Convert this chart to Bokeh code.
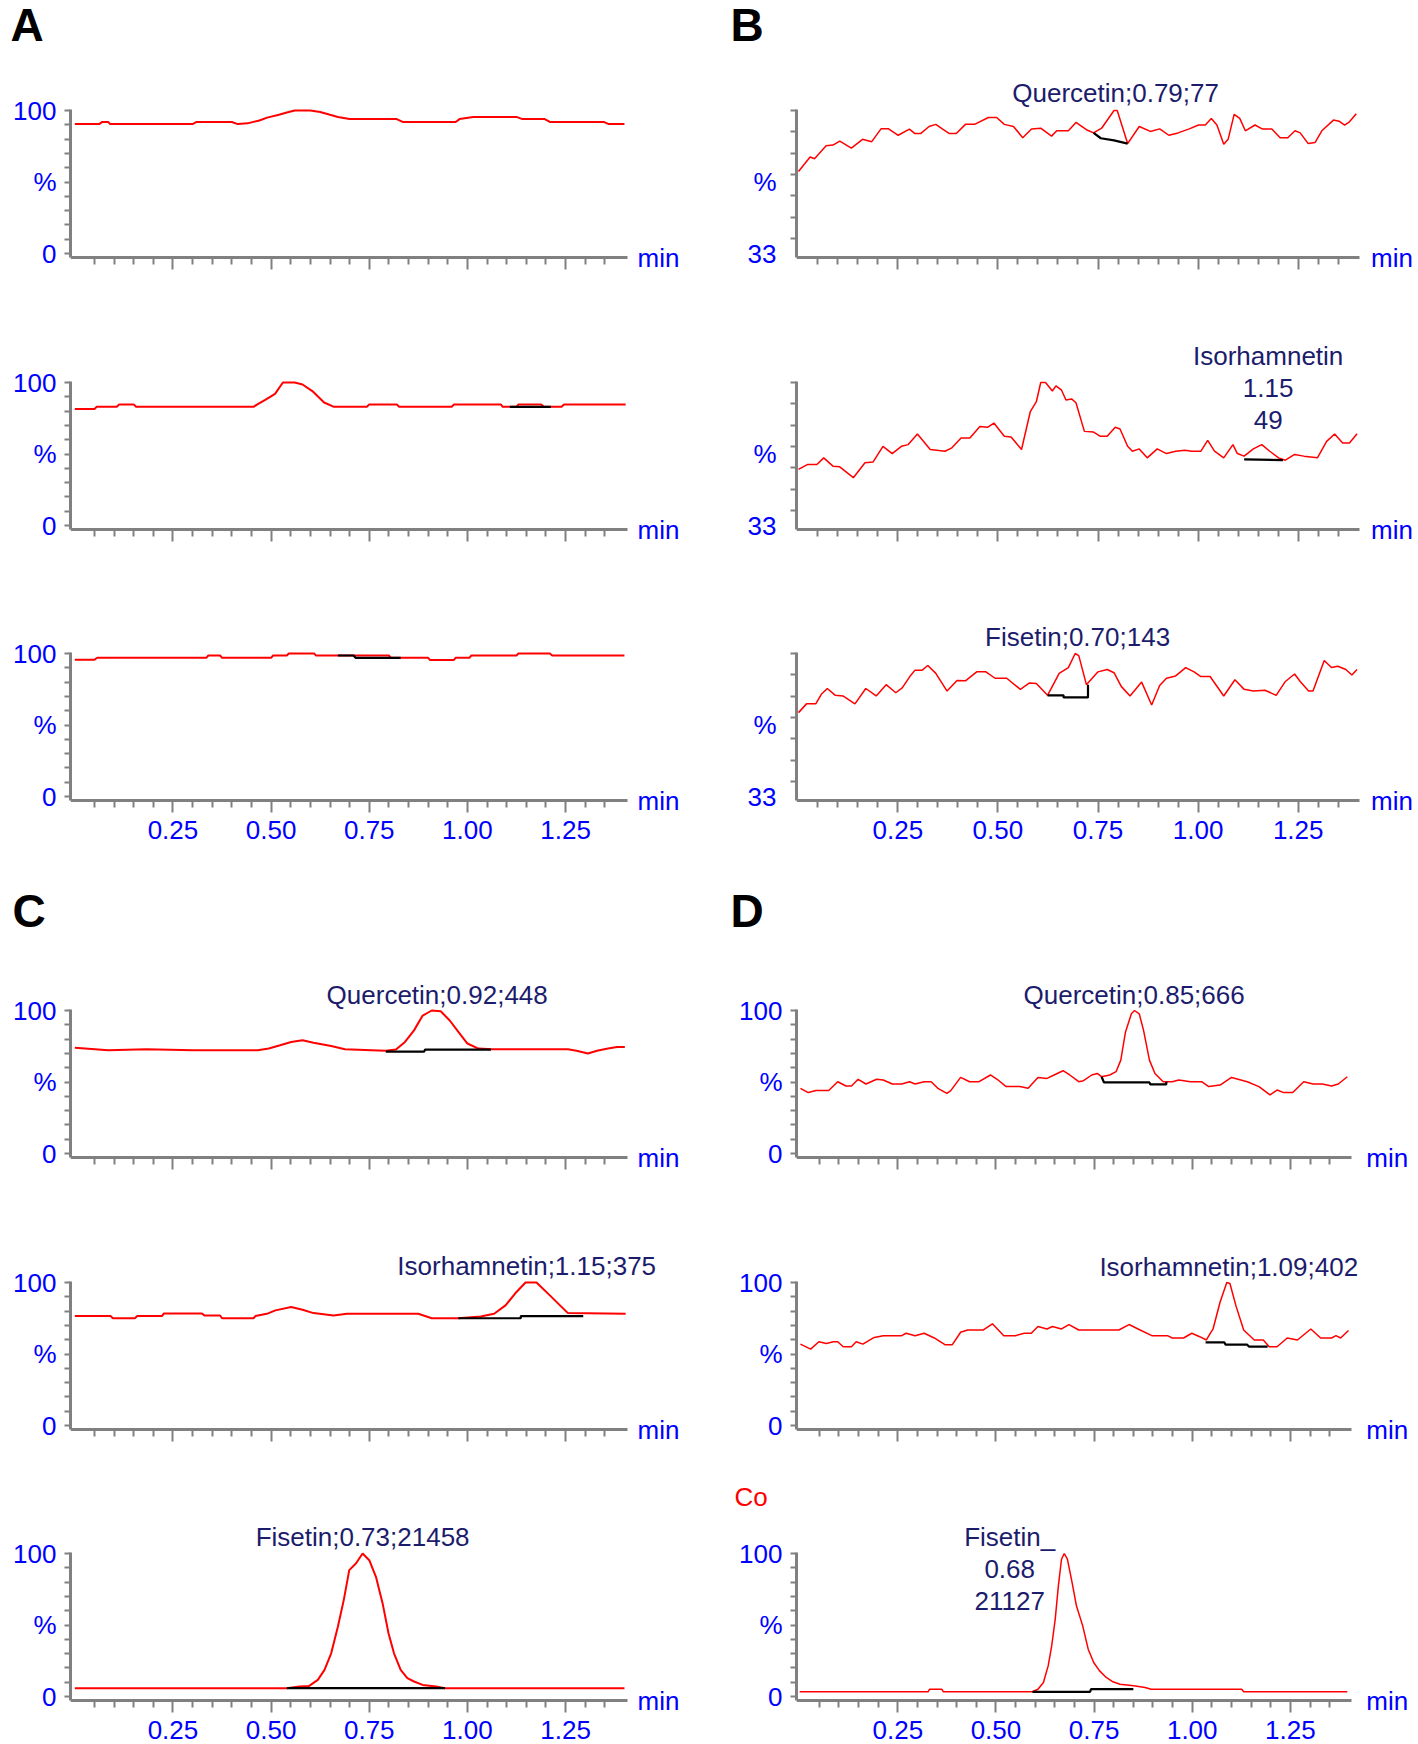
from bokeh.plotting import figure
from bokeh.layouts import column, row
from bokeh.models import FixedTicker, Label, Range1d, NumeralTickFormatter
from bokeh.core.properties import value
from bokeh.embed import file_html
from bokeh.resources import INLINE

FONT = "Liberation Sans"
BLUE = "#0000ff"
NAVY = "#1c1c6c"
GREY = "#808080"
RED = "#ff0000"
FS = "26px"

# ---------------- axes ticks / labels ----------------
X_MAJOR = [0.25, 0.50, 0.75, 1.00, 1.25]
X_MINOR = [0.05, 0.10, 0.15, 0.20, 0.30, 0.35, 0.40, 0.45, 0.55, 0.60, 0.65, 0.70,
           0.80, 0.85, 0.90, 0.95, 1.05, 1.10, 1.15, 1.20, 1.30, 1.35]
Y_PCT_TICKS = [0, 50, 100]
Y_PCT_LABELS = ["0", "%", "100"]
Y_PCT_MINOR = [10, 20, 30, 40, 60, 70, 80, 90]
Y_B_TICKS = [33, 66.5]
Y_B_LABELS = ["33", "%"]
Y_B_MINOR = [40, 50, 60, 70, 80, 90, 100]

# ---------------- data: A ----------------
a1_t = [0.00, 0.062, 0.07, 0.085, 0.09, 0.30, 0.31, 0.40, 0.415, 0.44, 0.47, 0.49, 0.52, 0.54, 0.56, 0.60,
        0.625, 0.65, 0.67, 0.70, 0.82, 0.835, 0.97, 0.98, 1.015, 1.125, 1.14, 1.197, 1.21, 1.347, 1.36, 1.40]
a1_y = [90.5, 90.5, 92, 92, 90.5, 90.5, 92, 92, 90.5, 91, 93, 95, 97, 98.6, 100, 100,
        99, 97, 95.5, 94, 94, 92, 92, 94, 95.5, 95.5, 94, 94, 92, 92, 90.5, 90.5]

a2_t = [0.00, 0.05, 0.056, 0.107, 0.113, 0.15, 0.156, 0.455, 0.465, 0.485, 0.51, 0.53, 0.56, 0.58, 0.605, 0.635,
        0.66, 0.744, 0.75, 0.82, 0.826, 0.96, 0.966, 1.085, 1.09, 1.125, 1.13, 1.188, 1.195, 1.24, 1.246, 1.403]
a2_y = [81.5, 81.5, 83, 83, 84.7, 84.7, 83, 83, 84.7, 87.8, 92, 100, 100, 98.6, 94, 86,
        83, 83, 84.7, 84.7, 83, 83, 84.7, 84.7, 83, 83, 84.7, 84.7, 83, 83, 84.7, 84.7]
a2_bt = [1.108, 1.2125]
a2_by = [83, 83]

a3_t = [0.00, 0.05, 0.057, 0.335, 0.34, 0.37, 0.375, 0.50, 0.505, 0.54, 0.545, 0.61, 0.614,
        0.80, 0.805, 0.90, 0.905, 0.965, 0.97, 1.005, 1.01, 1.125, 1.13, 1.21, 1.216, 1.40]
a3_y = [95.6, 95.6, 97, 97, 98.6, 98.6, 97, 97, 98.6, 98.6, 100, 100, 98.6,
        98.6, 97, 97, 95.4, 95.4, 97, 97, 98.6, 98.6, 100, 100, 98.6, 98.6]
a3_bt = [0.67, 0.71, 0.715, 0.83]
a3_by = [98.6, 98.6, 97, 97]

# ---------------- data: B ----------------
b1_t = [0.002, 0.031, 0.042, 0.071, 0.088, 0.105, 0.134, 0.162, 0.185, 0.208, 0.227, 0.251, 0.279, 0.293, 0.307,
        0.328, 0.345, 0.362, 0.379, 0.396, 0.419, 0.442, 0.476, 0.497, 0.516, 0.539, 0.562, 0.584, 0.607, 0.634,
        0.647, 0.676, 0.695, 0.721, 0.739, 0.759, 0.790, 0.798, 0.824, 0.853, 0.881, 0.904, 0.927, 0.950, 0.978,
        1.001, 1.018, 1.033, 1.047, 1.064, 1.075, 1.090, 1.104, 1.118, 1.142, 1.161, 1.184, 1.205, 1.224, 1.242,
        1.255, 1.275, 1.292, 1.309, 1.338, 1.352, 1.366, 1.378, 1.395]
b1_y = [71.4, 78.2, 77.4, 83.5, 83.8, 85.7, 82.4, 86.5, 85.4, 91.4, 91.4, 88.4, 91.3, 89.2, 89.2,
        92.5, 93.5, 91.3, 89.2, 89.2, 93.5, 93.5, 96.7, 96.7, 93.5, 92.5, 87.2, 91.3, 91.7, 88.0,
        90.5, 90.5, 94.4, 91.0, 89.5, 91.7, 100, 100, 84.5, 92.5, 90.2, 91.4, 88.4, 89.5, 91.4,
        93.2, 93.2, 96.3, 93.2, 84.2, 86.5, 98.2, 96.3, 90.5, 93.2, 91.3, 91.3, 87.2, 87.2, 90.5,
        89.5, 84.5, 85.0, 90.5, 95.5, 95.0, 93.2, 94.7, 98.5]
b1_bt = [0.739, 0.757, 0.79, 0.824]
b1_by = [89.5, 87, 86, 84.5]

b2_t = [0.002, 0.025, 0.048, 0.065, 0.088, 0.105, 0.139, 0.168, 0.188, 0.213, 0.236, 0.259, 0.276, 0.299, 0.331,
        0.368, 0.385, 0.408, 0.430, 0.455, 0.474, 0.490, 0.516, 0.533, 0.559, 0.581, 0.596, 0.607, 0.619, 0.636,
        0.645, 0.659, 0.670, 0.684, 0.695, 0.716, 0.739, 0.756, 0.773, 0.793, 0.805, 0.824, 0.836, 0.853, 0.873,
        0.898, 0.921, 0.944, 0.967, 0.984, 1.007, 1.024, 1.041, 1.064, 1.087, 1.098, 1.115, 1.138, 1.159, 1.179,
        1.201, 1.218, 1.241, 1.264, 1.298, 1.321, 1.341, 1.361, 1.378, 1.397]
b2_y = [59.3, 61.6, 61.6, 64.7, 60.8, 60.5, 55.4, 62.4, 62.7, 70.1, 66.7, 70.1, 70.9, 75.9, 68.6,
        67.8, 69.4, 74.0, 74.0, 79.4, 79.0, 81.0, 74.8, 74.5, 68.6, 86.4, 91.0, 100, 100, 96.0,
        98.4, 96.4, 91.8, 92.3, 90.5, 77.1, 76.8, 74.8, 74.8, 79.0, 78.2, 70.1, 67.8, 68.9, 64.7,
        68.9, 66.7, 67.8, 68.3, 67.8, 67.8, 72.9, 67.8, 64.7, 70.9, 66.7, 65.5, 68.9, 70.9, 67.8,
        64.7, 63.6, 66.3, 65.5, 64.7, 72.4, 75.9, 71.7, 71.7, 76.0]
b2_bt = [1.115, 1.212]
b2_by = [64.0, 63.6]

b3_t = [0.002, 0.022, 0.045, 0.059, 0.074, 0.094, 0.113, 0.143, 0.170, 0.196, 0.221, 0.245, 0.261, 0.280, 0.293,
        0.311, 0.325, 0.345, 0.373, 0.398, 0.419, 0.447, 0.470, 0.493, 0.522, 0.556, 0.579, 0.596, 0.624, 0.653,
        0.676, 0.693, 0.702, 0.721, 0.750, 0.773, 0.790, 0.808, 0.830, 0.859, 0.884, 0.904, 0.921, 0.944, 0.969,
        0.990, 1.007, 1.030, 1.064, 1.092, 1.115, 1.138, 1.167, 1.195, 1.218, 1.241, 1.255, 1.276, 1.287, 1.315,
        1.333, 1.349, 1.369, 1.384, 1.397]
b3_y = [72.3, 76.4, 76.4, 80.9, 83.6, 80.4, 80.1, 76.4, 83.6, 80.1, 85.4, 81.6, 83.9, 89.2, 92.2,
        92.2, 94.4, 90.7, 82.4, 87.4, 87.2, 91.4, 91.4, 88.4, 88.4, 83.2, 86.2, 85.9, 80.4, 90.7,
        93.4, 100, 99.0, 85.4, 91.4, 92.5, 91.0, 84.6, 80.1, 86.6, 75.9, 85.0, 88.4, 89.5, 93.4,
        91.4, 89.2, 89.2, 80.1, 87.7, 83.2, 82.4, 82.8, 80.4, 86.9, 90.4, 86.9, 82.4, 82.4, 96.7,
        93.4, 94.0, 92.5, 89.9, 92.5]
b3_bt = [0.624, 0.664, 0.664, 0.725, 0.725]
b3_by = [80.4, 80.4, 79.4, 79.4, 85.4]

# ---------------- data: C ----------------
c1_t = [0.00, 0.085, 0.182, 0.301, 0.466, 0.494, 0.523, 0.551, 0.580, 0.608, 0.653, 0.688, 0.756, 0.792, 0.818,
        0.841, 0.864, 0.886, 0.909, 0.932, 0.955, 0.977, 1.000, 1.028, 1.063, 1.256, 1.278, 1.307, 1.330, 1.358,
        1.381, 1.401]
c1_y = [74.0, 72.2, 72.9, 72.2, 72.2, 73.4, 75.7, 78.0, 79.2, 77.5, 75.2, 72.9, 72.2, 71.8, 72.7,
        78.0, 86.1, 96.5, 100, 99.5, 93.0, 85.0, 76.9, 73.4, 72.9, 72.9, 71.8, 69.9, 71.8, 73.4,
        74.5, 74.5]
c1_bt = [0.792, 0.89, 0.892, 1.06]
c1_by = [71.3, 71.3, 72.7, 72.7]

c2_t = [0.00, 0.091, 0.097, 0.153, 0.159, 0.222, 0.227, 0.324, 0.33, 0.37, 0.375, 0.455, 0.46, 0.489, 0.511,
        0.551, 0.580, 0.608, 0.659, 0.693, 0.875, 0.909, 0.977, 1.034, 1.068, 1.097, 1.125, 1.148, 1.176, 1.210,
        1.256, 1.403]
c2_y = [76.5, 76.5, 75.0, 75.0, 76.5, 76.5, 78.4, 78.4, 76.9, 76.9, 75.0, 75.0, 76.5, 78.1, 80.5,
        82.8, 80.9, 78.6, 76.9, 78.1, 78.1, 75.0, 75.0, 76.2, 78.1, 84.0, 93.4, 100, 100, 91.0,
        78.6, 78.1]
c2_bt = [0.977, 1.136, 1.136, 1.295]
c2_by = [75.0, 75.0, 76.5, 76.5]

c3_t = [0.00, 0.54, 0.572, 0.597, 0.619, 0.636, 0.653, 0.670, 0.685, 0.699, 0.716, 0.733, 0.750, 0.767, 0.784,
        0.799, 0.813, 0.830, 0.847, 0.864, 0.886, 0.920, 0.943, 1.40]
c3_y = [5.8, 5.8, 7.0, 7.4, 11.6, 18.6, 30.2, 48.8, 67.4, 88.4, 93.0, 100, 95.3, 83.7, 65.1,
        44.2, 30.2, 18.6, 12.8, 10.5, 8.1, 7.0, 5.8, 5.8]
c3_bt = [0.54, 0.943]
c3_by = [5.8, 5.8]

# ---------------- data: D ----------------
d1_t = [0.002, 0.022, 0.042, 0.074, 0.097, 0.118, 0.132, 0.149, 0.169, 0.196, 0.213, 0.236, 0.260, 0.280, 0.294,
        0.317, 0.335, 0.352, 0.375, 0.385, 0.410, 0.433, 0.457, 0.486, 0.503, 0.526, 0.561, 0.582, 0.607, 0.630,
        0.648, 0.671, 0.688, 0.711, 0.723, 0.744, 0.758, 0.769, 0.790, 0.806, 0.818, 0.830, 0.845, 0.853, 0.865,
        0.876, 0.891, 0.905, 0.926, 0.949, 0.966, 0.995, 1.024, 1.042, 1.071, 1.100, 1.117, 1.140, 1.170, 1.198,
        1.216, 1.233, 1.256, 1.284, 1.308, 1.331, 1.355, 1.372, 1.395]
d1_y = [45.6, 42.6, 44.0, 44.0, 50.2, 47.2, 47.2, 51.9, 48.6, 51.9, 51.4, 48.6, 48.6, 50.2, 48.6,
        50.2, 50.2, 45.6, 42.1, 44.0, 53.2, 50.2, 50.2, 54.9, 51.9, 46.8, 46.8, 45.6, 53.2, 52.5,
        54.9, 57.9, 54.9, 50.2, 50.9, 54.9, 56.0, 53.7, 54.9, 57.2, 65.3, 85.0, 97.7, 100, 97.7,
        86.1, 65.3, 56.0, 50.2, 50.2, 51.4, 50.2, 50.2, 46.8, 47.9, 53.2, 51.9, 50.2, 46.8, 41.0,
        44.4, 42.6, 42.6, 50.2, 48.6, 48.6, 47.2, 48.6, 53.7]
d1_bt = [0.769, 0.775, 0.891, 0.893, 0.934, 0.934]
d1_by = [53.7, 49.8, 49.8, 48.4, 48.4, 50.2]

d2_t = [0.002, 0.028, 0.049, 0.068, 0.086, 0.097, 0.111, 0.132, 0.144, 0.161, 0.190, 0.213, 0.260, 0.271, 0.294,
        0.317, 0.343, 0.370, 0.389, 0.410, 0.428, 0.468, 0.491, 0.520, 0.549, 0.572, 0.590, 0.607, 0.630, 0.644,
        0.667, 0.686, 0.711, 0.746, 0.813, 0.839, 0.862, 0.897, 0.937, 0.949, 0.978, 0.999, 1.019, 1.036, 1.053,
        1.071, 1.088, 1.096, 1.111, 1.131, 1.158, 1.181, 1.196, 1.216, 1.242, 1.268, 1.302, 1.327, 1.355, 1.366,
        1.378, 1.398]
d2_y = [56.9, 53.4, 58.6, 57.4, 58.6, 58.6, 55.1, 55.1, 58.6, 56.9, 61.6, 62.8, 62.8, 64.5, 62.8,
        64.5, 61.2, 56.5, 56.5, 65.2, 66.8, 66.8, 71.1, 62.8, 62.8, 64.5, 64.5, 69.2, 67.5, 69.2,
        67.5, 70.6, 66.8, 66.8, 66.8, 70.6, 67.5, 62.8, 62.8, 61.2, 61.2, 64.5, 62.1, 59.8, 67.5,
        86.4, 100, 99.3, 84.0, 66.8, 59.8, 59.8, 55.1, 55.1, 61.2, 59.8, 67.5, 61.2, 61.2, 62.8,
        61.2, 66.4]
d2_bt = [1.034, 1.082, 1.085, 1.14, 1.145, 1.192]
d2_by = [58.1, 58.1, 56.5, 56.5, 55.1, 55.1]

d3_t = [0.00, 0.327, 0.331, 0.362, 0.366, 0.593, 0.607, 0.621, 0.633, 0.642, 0.651, 0.659, 0.667, 0.674, 0.682,
        0.694, 0.705, 0.721, 0.735, 0.749, 0.764, 0.781, 0.798, 0.816, 0.851, 0.88, 0.895, 1.126, 1.131, 1.395]
d3_y = [3.3, 3.3, 5.1, 5.1, 3.3, 3.3, 5.1, 9.8, 21.4, 35.4, 54.1, 77.4, 96.0, 100, 96.0,
        79.7, 63.4, 49.4, 33.1, 23.8, 17.9, 13.3, 10.3, 8.6, 7.5, 6.3, 5.1, 5.1, 3.3, 3.3]
d3_bt = [0.593, 0.74, 0.742, 0.85]
d3_by = [3.3, 3.3, 5.1, 5.1]

# ---------------- peak annotations (text, time, pixel offset above the 100 level) ----------------
b1_notes = [("Quercetin;0.79;77", 0.794, 18)]
b2_notes = [("Isorhamnetin", 1.175, 27), ("1.15", 1.175, -5), ("49", 1.175, -37)]
b3_notes = [("Fisetin;0.70;143", 0.699, 17)]
c1_notes = [("Quercetin;0.92;448", 0.923, 16)]
c2_notes = [("Isorhamnetin;1.15;375", 1.151, 17)]
c3_notes = [("Fisetin;0.73;21458", 0.733, 17)]
d1_notes = [("Quercetin;0.85;666", 0.852, 16)]
d2_notes = [("Isorhamnetin;1.09;402", 1.093, 16)]
d3_notes = [("Fisetin_", 0.535, 17), ("0.68", 0.535, -15), ("21127", 0.535, -47)]

# ---------------- layout constants (pixels) ----------------
AX_BELOW = 147                # px from the 100 level down to the time axis
PPU_PCT = 143 / 100.0         # px per % unit (0..100 scale)
PPU_B = 143 / 67.0            # px per unit (33..100 scale)
PPM_L, PPM_B, PPM_D = 392.6, 400.4, 392.6   # px per minute
XR_L = (-0.011, 1.408)
XR_B = (-0.003, 1.402)
XR_D = (-0.008, 1.405)
W_L, W_R = 700, 718
LB_L, LB_R = 70, 96


def panel(t, y, bt, by, kind, xr, ppm, canvas_w, left_b, top_px, bot_px, labels_on,
          notes=(), min_dx=10, lw=2.0):
    ppu = PPU_PCT if kind == "pct" else PPU_B
    y_axis = 100 - AX_BELOW / ppu          # value where the time axis sits
    y_lo = y_axis - bot_px / ppu
    y_hi = 100 + top_px / ppu
    frame_w = canvas_w - left_b
    x1 = xr[0] + frame_w / ppm
    p = figure(width=canvas_w, height=top_px + AX_BELOW + bot_px,
               x_range=Range1d(xr[0], x1), y_range=Range1d(y_lo, y_hi),
               output_backend="svg", toolbar_location=None, title=None,
               min_border_left=left_b, min_border_right=0,
               min_border_top=0, min_border_bottom=0,
               background_fill_color="white", border_fill_color="white",
               outline_line_color=None)
    p.xgrid.visible = False
    p.ygrid.visible = False
    p.line(t, y, line_color=RED, line_width=lw)
    if bt:
        p.line(bt, by, line_color="black", line_width=2.2)

    xa = p.xaxis[0]
    xa.fixed_location = y_axis
    xa.bounds = xr
    xa.ticker = FixedTicker(ticks=X_MAJOR, minor_ticks=X_MINOR)
    xa.formatter = NumeralTickFormatter(format="0.00")
    if not labels_on:
        xa.major_label_overrides = {v: "" for v in X_MAJOR}
    xa.axis_line_color = GREY
    xa.axis_line_width = 3
    xa.major_tick_line_color = GREY
    xa.minor_tick_line_color = GREY
    xa.major_tick_line_width = 2
    xa.minor_tick_line_width = 2
    xa.major_tick_in = 0
    xa.minor_tick_in = 0
    xa.major_tick_out = 12
    xa.minor_tick_out = 7
    xa.major_label_standoff = 8
    xa.major_label_text_font = FONT
    xa.major_label_text_font_size = FS
    xa.major_label_text_color = BLUE

    ya = p.yaxis[0]
    ya.bounds = (y_axis, 100 + 1.5 / ppu)
    if kind == "pct":
        ya.ticker = FixedTicker(ticks=Y_PCT_TICKS, minor_ticks=Y_PCT_MINOR)
        ya.major_label_overrides = dict(zip(Y_PCT_TICKS, Y_PCT_LABELS))
        ya.major_tick_out = 6
        ya.major_label_standoff = 8
    else:
        ya.ticker = FixedTicker(ticks=Y_B_TICKS, minor_ticks=Y_B_MINOR)
        ya.major_label_overrides = dict(zip(Y_B_TICKS, Y_B_LABELS))
        ya.major_tick_out = 0
        ya.major_label_standoff = 14
    ya.axis_line_color = GREY
    ya.axis_line_width = 3
    ya.major_tick_line_color = GREY
    ya.minor_tick_line_color = GREY
    ya.major_tick_line_width = 2
    ya.minor_tick_line_width = 2
    ya.major_tick_in = 0
    ya.minor_tick_in = 0
    ya.minor_tick_out = 6
    ya.major_label_text_font = FONT
    ya.major_label_text_font_size = FS
    ya.major_label_text_color = BLUE

    p.add_layout(Label(x=xr[1], y=y_axis, x_offset=min_dx, y_offset=0, text="min",
                       text_align="left", text_baseline="middle", text_color=BLUE,
                       text_font=FONT, text_font_size=FS))
    for txt, tx, dy in notes:
        p.add_layout(Label(x=tx, y=100, y_offset=dy, text=txt, text_align="center",
                           text_baseline="middle", text_color=NAVY, text_font=FONT,
                           text_font_size=FS))
    return p


def strip(canvas_w, h, texts):
    """A plain text band (panel letters etc.) placed above a row of panels."""
    s = figure(width=canvas_w, height=h, x_range=Range1d(0, canvas_w), y_range=Range1d(h, 0),
               output_backend="svg", toolbar_location=None, title=None,
               x_axis_type=None, y_axis_type=None,
               min_border_left=0, min_border_right=0, min_border_top=0, min_border_bottom=0,
               background_fill_color="white", border_fill_color="white",
               outline_line_color=None)
    s.xgrid.visible = False
    s.ygrid.visible = False
    for txt, x, yy, size, style, col in texts:
        s.text(x=[x], y=[yy], text=[txt], text_font=value(FONT), text_font_size=value(size),
               text_font_style=style, text_color=col, text_align="left", text_baseline="middle")
    return s


LETTER = "46px"
top_strip = row(strip(W_L, 50, [("A", 10, 24, LETTER, "bold", "black")]),
                strip(W_R, 50, [("B", 30, 24, LETTER, "bold", "black")]))
pa1 = panel(a1_t, a1_y, None, None, "pct", XR_L, PPM_L, W_L, LB_L, 60, 50, False)
pb1 = panel(b1_t, b1_y, b1_bt, b1_by, "b", XR_B, PPM_B, W_R, LB_R, 60, 50, False,
            notes=b1_notes, min_dx=12, lw=1.5)
pa2 = panel(a2_t, a2_y, a2_bt, a2_by, "pct", XR_L, PPM_L, W_L, LB_L, 75, 50, False)
pb2 = panel(b2_t, b2_y, b2_bt, b2_by, "b", XR_B, PPM_B, W_R, LB_R, 75, 50, False,
            notes=b2_notes, min_dx=12, lw=1.5)
pa3 = panel(a3_t, a3_y, a3_bt, a3_by, "pct", XR_L, PPM_L, W_L, LB_L, 74, 58, True)
pb3 = panel(b3_t, b3_y, b3_bt, b3_by, "b", XR_B, PPM_B, W_R, LB_R, 74, 58, True,
            notes=b3_notes, min_dx=12, lw=1.5)
mid_strip = row(strip(W_L, 92, [("C", 12, 52, LETTER, "bold", "black")]),
                strip(W_R, 92, [("D", 30, 52, LETTER, "bold", "black")]))
pc1 = panel(c1_t, c1_y, c1_bt, c1_by, "pct", XR_L, PPM_L, W_L, LB_L, 60, 50, False,
            notes=c1_notes)
pd1 = panel(d1_t, d1_y, d1_bt, d1_by, "pct", XR_D, PPM_D, W_R, LB_R, 60, 50, False,
            notes=d1_notes, min_dx=15, lw=1.5)
pc2 = panel(c2_t, c2_y, c2_bt, c2_by, "pct", XR_L, PPM_L, W_L, LB_L, 75, 50, False,
            notes=c2_notes)
pd2 = panel(d2_t, d2_y, d2_bt, d2_by, "pct", XR_D, PPM_D, W_R, LB_R, 75, 50, False,
            notes=d2_notes, min_dx=15, lw=1.5)
co_strip = row(strip(W_L, 35, []),
               strip(W_R, 35, [("Co", 34, 17, FS, "normal", RED)]))
pc3 = panel(c3_t, c3_y, c3_bt, c3_by, "pct", XR_L, PPM_L, W_L, LB_L, 39, 44, True,
            notes=c3_notes)
pd3 = panel(d3_t, d3_y, d3_bt, d3_by, "pct", XR_D, PPM_D, W_R, LB_R, 39, 44, True,
            notes=d3_notes, min_dx=15, lw=1.5)

layout = column(top_strip,
                row(pa1, pb1), row(pa2, pb2), row(pa3, pb3),
                mid_strip,
                row(pc1, pd1), row(pc2, pd2),
                co_strip,
                row(pc3, pd3))

open("out.html", "w").write(file_html(layout, INLINE))
